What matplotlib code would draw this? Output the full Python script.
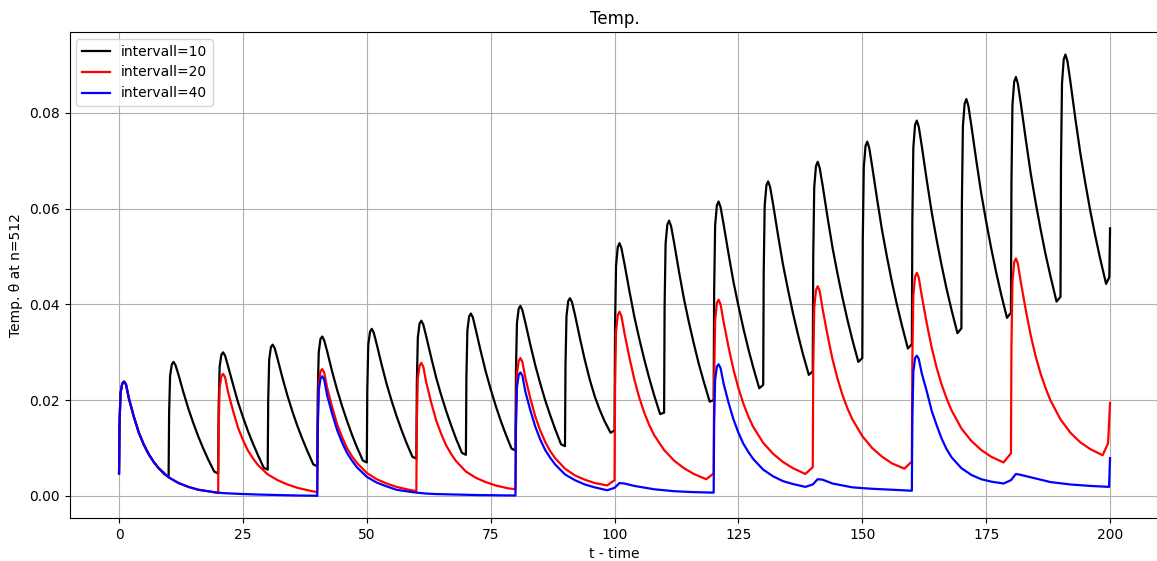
import numpy as np
import matplotlib
matplotlib.use("Agg")
import matplotlib.pyplot as plt

# ---------------- data ----------------
labels = ["intervall=10", "intervall=20", "intervall=40"]
colors = ["black", "red", "blue"]

# interval = 10 : one row per 10-unit cycle, sampled at these offsets
off_10 = [0, 0.1, 0.3, 0.65, 1.0, 1.4, 2, 3, 4, 5, 6, 7, 8, 9.2]
start_10 = list(range(0, 200, 10))
temp_10 = [
    [0.0047, 0.0153, 0.0215, 0.0235, 0.0239, 0.0233, 0.0203, 0.0165, 0.0132, 0.0107, 0.0087, 0.0071, 0.0058, 0.0045],
    [0.0040, 0.0172, 0.0251, 0.0275, 0.0280, 0.0273, 0.0253, 0.0216, 0.0182, 0.0152, 0.0124, 0.0099, 0.0076, 0.0051],
    [0.0047, 0.0186, 0.0270, 0.0295, 0.0300, 0.0293, 0.0271, 0.0233, 0.0196, 0.0165, 0.0136, 0.0110, 0.0086, 0.0059],
    [0.0055, 0.0199, 0.0285, 0.0311, 0.0316, 0.0309, 0.0286, 0.0246, 0.0209, 0.0176, 0.0146, 0.0119, 0.0094, 0.0066],
    [0.0062, 0.0211, 0.0300, 0.0328, 0.0333, 0.0325, 0.0302, 0.0260, 0.0222, 0.0188, 0.0157, 0.0128, 0.0102, 0.0074],
    [0.0070, 0.0223, 0.0316, 0.0343, 0.0349, 0.0341, 0.0317, 0.0274, 0.0234, 0.0199, 0.0167, 0.0138, 0.0111, 0.0082],
    [0.0078, 0.0236, 0.0331, 0.0360, 0.0366, 0.0358, 0.0333, 0.0289, 0.0247, 0.0211, 0.0178, 0.0148, 0.0120, 0.0090],
    [0.0086, 0.0248, 0.0346, 0.0375, 0.0381, 0.0373, 0.0347, 0.0302, 0.0260, 0.0223, 0.0189, 0.0158, 0.0130, 0.0099],
    [0.0095, 0.0261, 0.0361, 0.0391, 0.0397, 0.0388, 0.0362, 0.0316, 0.0273, 0.0235, 0.0200, 0.0169, 0.0140, 0.0108],
    [0.0104, 0.0274, 0.0376, 0.0407, 0.0413, 0.0405, 0.0379, 0.0330, 0.0284, 0.0243, 0.0208, 0.0180, 0.0156, 0.0132],
    [0.0137, 0.0352, 0.0481, 0.0520, 0.0528, 0.0517, 0.0485, 0.0428, 0.0374, 0.0328, 0.0285, 0.0246, 0.0210, 0.0171],
    [0.0174, 0.0395, 0.0527, 0.0567, 0.0575, 0.0564, 0.0530, 0.0469, 0.0412, 0.0363, 0.0318, 0.0276, 0.0239, 0.0197],
    [0.0200, 0.0428, 0.0565, 0.0607, 0.0615, 0.0603, 0.0568, 0.0506, 0.0447, 0.0397, 0.0350, 0.0307, 0.0268, 0.0225],
    [0.0232, 0.0466, 0.0606, 0.0649, 0.0657, 0.0645, 0.0609, 0.0544, 0.0483, 0.0431, 0.0382, 0.0338, 0.0297, 0.0253],
    [0.0260, 0.0501, 0.0645, 0.0689, 0.0698, 0.0685, 0.0648, 0.0581, 0.0518, 0.0464, 0.0414, 0.0368, 0.0326, 0.0280],
    [0.0288, 0.0537, 0.0686, 0.0731, 0.0740, 0.0727, 0.0688, 0.0619, 0.0554, 0.0498, 0.0446, 0.0399, 0.0356, 0.0308],
    [0.0317, 0.0574, 0.0728, 0.0775, 0.0784, 0.0771, 0.0731, 0.0660, 0.0593, 0.0535, 0.0482, 0.0433, 0.0389, 0.0340],
    [0.0350, 0.0613, 0.0772, 0.0819, 0.0829, 0.0815, 0.0774, 0.0701, 0.0632, 0.0573, 0.0518, 0.0468, 0.0422, 0.0372],
    [0.0383, 0.0654, 0.0816, 0.0865, 0.0875, 0.0861, 0.0819, 0.0744, 0.0673, 0.0612, 0.0556, 0.0504, 0.0458, 0.0406],
    [0.0416, 0.0694, 0.0861, 0.0912, 0.0922, 0.0908, 0.0865, 0.0788, 0.0716, 0.0654, 0.0596, 0.0544, 0.0496, 0.0443],
]
tail_10_t = [199.85, 200.0]
tail_10_v = [0.0457, 0.0559]

# interval = 20
off_20 = [0, 0.1, 0.3, 0.65, 1.0, 1.4, 2, 3, 4, 5, 6, 7, 8, 10, 12, 14, 16, 18.5]
start_20 = list(range(0, 200, 20))
temp_20 = [
    [0.0047, 0.0153, 0.0215, 0.0235, 0.0239, 0.0233, 0.0203, 0.0165, 0.0132, 0.0107, 0.0087, 0.0071, 0.0058, 0.0039, 0.0027, 0.0019, 0.0013, 0.0009],
    [0.0006, 0.0143, 0.0225, 0.0250, 0.0255, 0.0248, 0.0217, 0.0178, 0.0143, 0.0117, 0.0095, 0.0079, 0.0065, 0.0045, 0.0033, 0.0024, 0.0017, 0.0011],
    [0.0008, 0.0150, 0.0234, 0.0260, 0.0265, 0.0258, 0.0226, 0.0186, 0.0150, 0.0123, 0.0100, 0.0083, 0.0069, 0.0048, 0.0035, 0.0026, 0.0019, 0.0013],
    [0.0010, 0.0157, 0.0246, 0.0272, 0.0278, 0.0270, 0.0237, 0.0195, 0.0158, 0.0130, 0.0106, 0.0088, 0.0073, 0.0051, 0.0038, 0.0029, 0.0022, 0.0016],
    [0.0014, 0.0165, 0.0255, 0.0282, 0.0288, 0.0280, 0.0247, 0.0204, 0.0166, 0.0137, 0.0113, 0.0094, 0.0079, 0.0057, 0.0043, 0.0034, 0.0027, 0.0022],
    [0.0033, 0.0227, 0.0343, 0.0378, 0.0385, 0.0375, 0.0340, 0.0289, 0.0243, 0.0205, 0.0174, 0.0148, 0.0127, 0.0096, 0.0074, 0.0058, 0.0046, 0.0035],
    [0.0047, 0.0247, 0.0366, 0.0403, 0.0410, 0.0400, 0.0364, 0.0311, 0.0264, 0.0225, 0.0193, 0.0166, 0.0144, 0.0111, 0.0088, 0.0071, 0.0058, 0.0046],
    [0.0060, 0.0268, 0.0393, 0.0430, 0.0438, 0.0428, 0.0390, 0.0335, 0.0285, 0.0245, 0.0211, 0.0183, 0.0160, 0.0125, 0.0100, 0.0082, 0.0068, 0.0057],
    [0.0072, 0.0289, 0.0419, 0.0458, 0.0466, 0.0456, 0.0418, 0.0361, 0.0310, 0.0268, 0.0233, 0.0204, 0.0179, 0.0141, 0.0115, 0.0096, 0.0082, 0.0070],
    [0.0089, 0.0313, 0.0447, 0.0488, 0.0496, 0.0485, 0.0446, 0.0388, 0.0335, 0.0291, 0.0255, 0.0225, 0.0199, 0.0160, 0.0132, 0.0112, 0.0098, 0.0085],
]
tail_20_t = [199.6, 200.0]
tail_20_v = [0.0110, 0.0194]

# interval = 40
off_40 = [0, 0.1, 0.3, 0.65, 1.0, 1.4, 2, 3, 4, 5, 6, 7, 8, 10, 12, 14, 16, 18.5,
          20, 21, 22, 24, 28, 32, 36, 39.8]
start_40 = list(range(0, 200, 40))
temp_40 = [
    [0.0047, 0.0153, 0.0215, 0.0235, 0.0239, 0.0233, 0.0203, 0.0165, 0.0132, 0.0107, 0.0087, 0.0071, 0.0058,
     0.0039, 0.0027, 0.0019, 0.0013, 0.0009, 0.0007, 0.0006, 0.00055, 0.00045, 0.0003, 0.0002, 0.0001, 0.00005],
    [0.0000, 0.0138, 0.0220, 0.0245, 0.0250, 0.0243, 0.0210, 0.0172, 0.0138, 0.0112, 0.0090, 0.0074, 0.0060,
     0.0040, 0.0028, 0.0020, 0.0013, 0.0009, 0.0007, 0.0006, 0.0005, 0.0004, 0.0003, 0.0002, 0.00015, 0.0001],
    [0.0001, 0.0143, 0.0227, 0.0253, 0.0258, 0.0251, 0.0218, 0.0179, 0.0145, 0.0118, 0.0096, 0.0080, 0.0066,
     0.0045, 0.0033, 0.0024, 0.0018, 0.0012, 0.0017, 0.0027, 0.0026, 0.0021, 0.0014, 0.0010, 0.0008, 0.0007],
    [0.0007, 0.0154, 0.0243, 0.0270, 0.0275, 0.0267, 0.0235, 0.0195, 0.0160, 0.0132, 0.0109, 0.0092, 0.0077,
     0.0055, 0.0041, 0.0031, 0.0025, 0.0019, 0.0024, 0.0035, 0.0034, 0.0026, 0.0018, 0.0015, 0.0013, 0.0011],
    [0.0011, 0.0166, 0.0259, 0.0288, 0.0293, 0.0286, 0.0256, 0.0219, 0.0178, 0.0148, 0.0120, 0.0098, 0.0081,
     0.0058, 0.0044, 0.0035, 0.0030, 0.0026, 0.0033, 0.0046, 0.0044, 0.0039, 0.0029, 0.0024, 0.0021, 0.0019],
]
tail_40_t = [200.0]
tail_40_v = [0.0079]

x_ticks = [0, 25, 50, 75, 100, 125, 150, 175, 200]
y_ticks = [0.00, 0.02, 0.04, 0.06, 0.08]


def build(offsets, starts, rows, tail_t, tail_v):
    t = np.concatenate([s + np.asarray(offsets, float) for s in starts] + [np.asarray(tail_t, float)])
    v = np.concatenate([np.asarray(r, float) for r in rows] + [np.asarray(tail_v, float)])
    return t, v


series = [
    build(off_10, start_10, temp_10, tail_10_t, tail_10_v),
    build(off_20, start_20, temp_20, tail_20_t, tail_20_v),
    build(off_40, start_40, temp_40, tail_40_t, tail_40_v),
]

# ---------------- figure ----------------
W, H = 1157, 561
fig = plt.figure(figsize=(W / 100, H / 100), dpi=100)
ax = fig.add_axes([69.5 / W, (H - 518) / H, (1159.6 - 69.5) / W, 486 / H])

for (t, v), lab, col in zip(series, labels, colors):
    ax.plot(t, v, color=col, lw=1.6, label=lab, solid_joinstyle="round")

ax.set_xlim(-10, 210)
ax.set_ylim(-0.0046, 0.0969)
ax.set_xticks(x_ticks)
ax.set_yticks(y_ticks)
ax.set_yticklabels([f"{y:.2f}" for y in y_ticks])
ax.grid(True)
ax.set_title("Temp.")
ax.set_xlabel("t - time")
ax.set_ylabel("Temp. θ at n=512")
ax.legend(loc="upper left")

fig.savefig("out.png", dpi=100)
